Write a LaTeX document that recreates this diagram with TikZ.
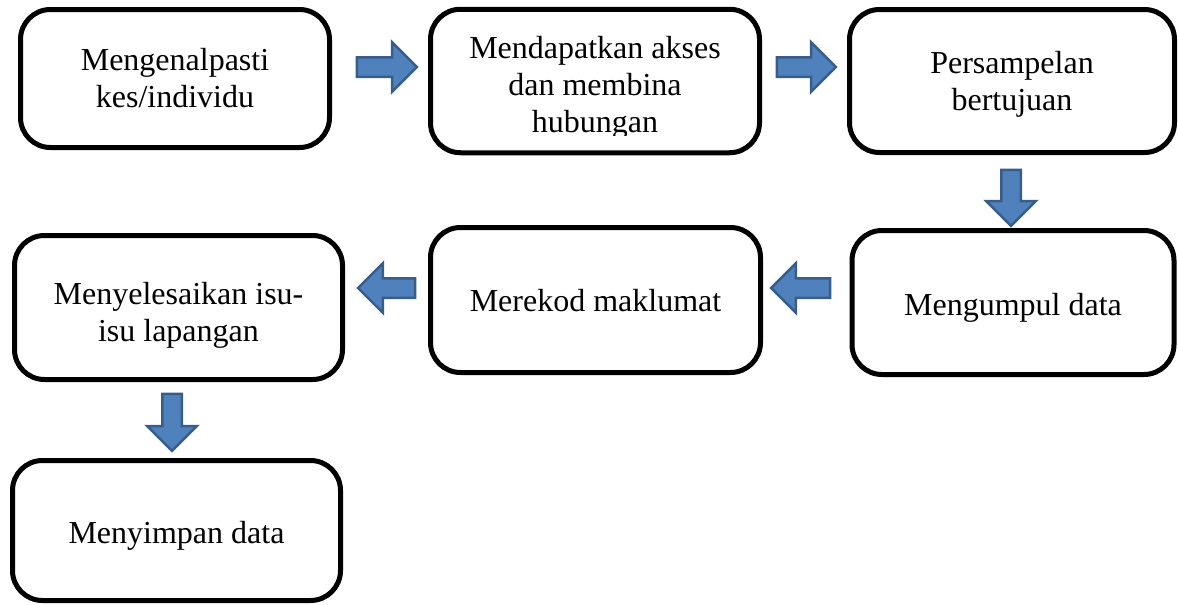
\documentclass[tikz,border=0pt]{standalone}
\usepackage{fontspec}
\setmainfont{Liberation Serif}
\usetikzlibrary{shapes.arrows}
\definecolor{afill}{HTML}{4F81BD}
\definecolor{aline}{HTML}{385D8A}
\begin{document}
\begin{tikzpicture}[x=1pt,y=-1pt,
  box/.style={draw=black, line width=5pt, rounded corners=30pt, inner sep=0pt},
  txt/.style={font=\fontsize{32}{37}\selectfont, align=center, inner sep=0pt},
  barrow/.style={single arrow, draw=aline, fill=afill, line width=2.5pt,
     inner sep=0pt, text height=17pt, text depth=0pt, text width=0pt,
     minimum width=47pt, single arrow head extend=15pt, single arrow tip angle=90}]
\useasboundingbox (0,0) rectangle (1178,605);
% boxes
\node[box, minimum width=309pt, minimum height=138pt] (b1) at (175,78.5) {};
\node[box, minimum width=329pt, minimum height=143.5pt] (b2) at (595,81) {};
\node[box, minimum width=325pt, minimum height=143pt] (b3) at (1012,81) {};
\node[box, minimum width=322pt, minimum height=144pt] (b4) at (1013,302.5) {};
\node[box, minimum width=330pt, minimum height=145pt] (b5) at (595.5,300) {};
\node[box, minimum width=328pt, minimum height=144pt] (b6) at (178.5,307.5) {};
\node[box, minimum width=328pt, minimum height=140pt] (b7) at (176.5,530.5) {};
% texts
\node[txt] (t1) at (175,78.5) {Mengenalpasti\\kes/individu};
\begin{scope}
  \clip (430,9) rectangle (760,135);
  \node[txt] (t2) at (595,87.5) {Mendapatkan akses\\dan membina\\hubungan};
\end{scope}
\node[txt] (t3) at (1012,84) {Persampelan\\bertujuan};
\node[txt] (t4) at (1013,307.5) {Mengumpul data};
\node[txt] (t5) at (595.5,301) {Merekod maklumat};
\node[txt] (t6) at (178.5,315) {Menyelesaikan isu-\\isu lapangan};
\node[txt] (t7) at (176.5,535.5) {Menyimpan data};
% block arrows
\node[barrow, minimum height=60pt] (a12) at (382,67) {};
\node[barrow, minimum height=59pt] (a23) at (801.5,67) {};
\node[barrow, minimum height=56pt, rotate=-90] (a34) at (1011,193) {};
\node[barrow, minimum height=59pt, rotate=180] (a45) at (805.5,288) {};
\node[barrow, minimum height=57pt, rotate=180] (a56) at (391.5,288) {};
\node[barrow, minimum height=57pt, rotate=-90] (a67) at (172,417.5) {};
\end{tikzpicture}
\end{document}
